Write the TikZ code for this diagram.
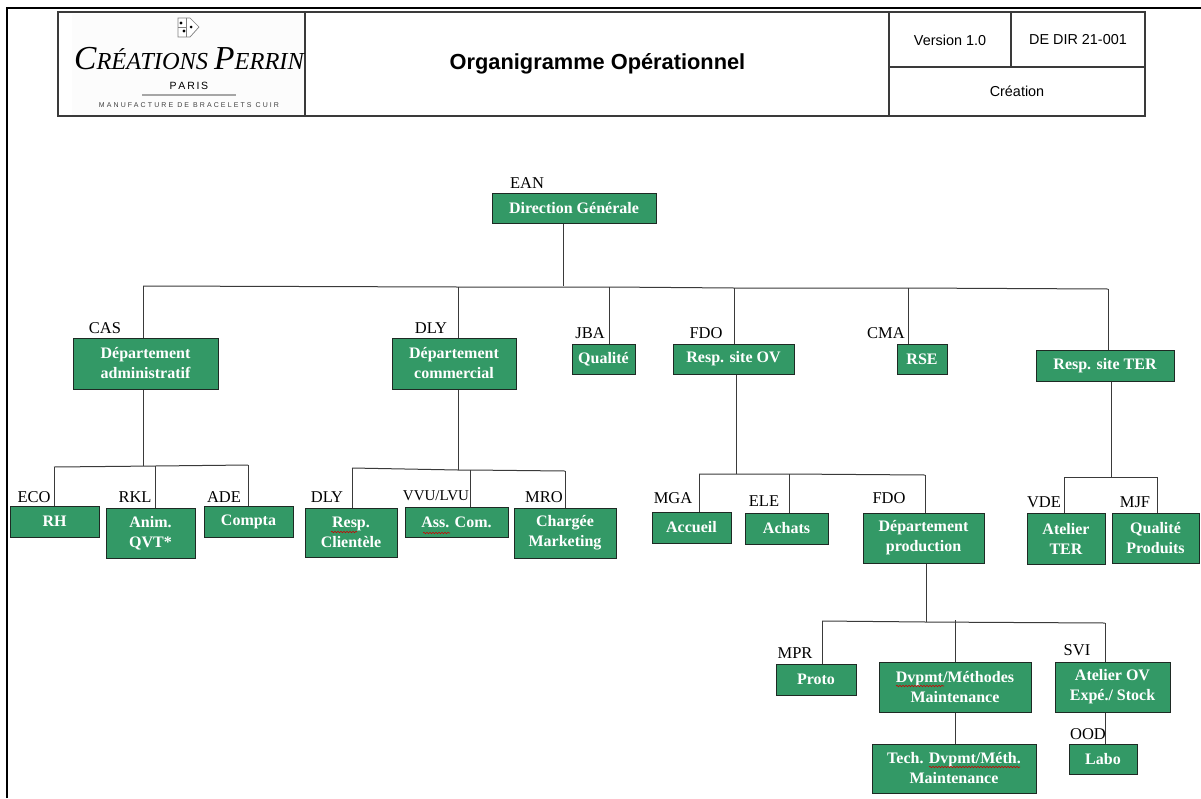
\documentclass[tikz,border=0pt]{standalone}
\usepackage{fontspec}
\setmainfont{Liberation Serif}
\newfontfamily\headfont{Liberation Sans}
\newfontfamily\spacedfont[LetterSpace=30]{Liberation Sans}
\usetikzlibrary{decorations.pathmorphing}
\definecolor{boxgreen}{HTML}{339966}
\definecolor{boxline}{HTML}{1E2A24}
\definecolor{wireline}{HTML}{3A3A3A}
\tikzset{
  orgbox/.style={draw=boxline,fill=boxgreen,line width=1pt,text=white,align=center,inner sep=0pt,
    font=\fontsize{16}{20}\selectfont\bfseries},
  tag/.style={inner sep=0pt,font=\fontsize{16.5}{16}\selectfont},
  wire/.style={draw=wireline,line width=1pt},
  headline/.style={draw=wireline,line width=1.1pt},
  headtxt/.style={inner sep=0pt,font=\headfont\fontsize{14.4}{16}\selectfont},
  squig/.style={draw=red!80!black,line width=0.6pt,decorate,decoration={snake,amplitude=0.7pt,segment length=3pt}}
}
\begin{document}
\begin{tikzpicture}[x=1pt,y=-1pt]
\useasboundingbox (0,0) rectangle (1201,798);
\fill[white] (0,0) rectangle (1201,798);
% page frame
\draw[line width=2pt] (7,798) -- (7,8) -- (1201,8);
% header
\fill[black!1] (72,14) rectangle (305,115);
\draw[headline] (58,12) rectangle (1145,116);
\draw[headline] (305,12) -- (305,116);
\draw[headline] (889,12) -- (889,116);
\draw[headline] (1011,12) -- (1011,67);
\draw[headline] (889,67) -- (1145,67);
% logo
\draw[gray,line width=0.7pt,fill=white] (178,18) -- (190,18) -- (199,27) -- (190,37) -- (178,37) -- cycle;
\draw[gray,line width=0.5pt] (186,18) -- (186,37) (178,27) -- (186,27);
\fill (181,23) circle (1.7pt);
\fill (184,31) circle (1.7pt);
\fill (191,27) circle (1.5pt);
\node[inner sep=0pt,font=\itshape] (logoname) at (189,59)
  {\fontsize{33.5}{34}\selectfont C\fontsize{24.4}{25}\selectfont RÉATIONS \fontsize{33.5}{34}\selectfont P\fontsize{24.4}{25}\selectfont ERRIN};
\node[inner sep=0pt,font=\headfont\fontsize{10.5}{11}\selectfont] (logoville) at (189,86) {P\,A\,R\,I\,S};
\draw[black!35,line width=1.2pt] (142,95) -- (236,95);
\node[inner sep=0pt,font=\spacedfont\fontsize{7}{8}\selectfont,text=black!75] (logomanu) at (189,105) {MANUFACTURE DE BRACELETS CUIR};
\node[inner sep=0pt,font=\headfont\bfseries\fontsize{21.8}{24}\selectfont] (titre) at (597.5,64) {Organigramme Opérationnel};
\node[headtxt] (version) at (950,40) {Version 1.0};
\node[headtxt] (reference) at (1078,40) {DE DIR 21-001};
\node[headtxt] (service) at (1017,91) {Création};
% boxes
\node[orgbox,minimum width=164,minimum height=30] (dg) at (574,208) {Direction Générale};
\node[orgbox,minimum width=145,minimum height=51] (dadm) at (145.5,363.5) {Département\\administratif};
\node[orgbox,minimum width=124,minimum height=51] (dcom) at (454,363.5) {Département\\commercial};
\node[orgbox,minimum width=63,minimum height=30] (qual) at (603.5,359) {Qualité};
\node[orgbox,minimum width=121,minimum height=30] (rov) at (733.5,359) {Resp. site OV};
\node[orgbox,minimum width=50,minimum height=30] (rse) at (922,359) {RSE};
\node[orgbox,minimum width=138,minimum height=31] (rter) at (1105,365.5) {Resp. site TER};
\node[orgbox,minimum width=89,minimum height=31] (rh) at (54.5,521.5) {RH};
\node[orgbox,minimum width=89,minimum height=50] (anim) at (150.5,533) {Anim.\\QVT*};
\node[orgbox,minimum width=89,minimum height=31] (compta) at (248.5,521.5) {Compta};
\node[orgbox,minimum width=92,minimum height=49] (clien) at (351,532.5) {Resp.\\Clientèle};
\node[orgbox,minimum width=103,minimum height=30] (asscom) at (456.5,522) {Ass. Com.};
\node[orgbox,minimum width=102,minimum height=50] (mark) at (565,533) {Chargée\\Marketing};
\node[orgbox,minimum width=79,minimum height=31] (accueil) at (691.5,527.5) {Accueil};
\node[orgbox,minimum width=83,minimum height=31] (achats) at (786.5,528.5) {Achats};
\node[orgbox,minimum width=121,minimum height=50] (dprod) at (923.5,538) {Département\\production};
\node[orgbox,minimum width=78,minimum height=51] (ater) at (1066,538.5) {Atelier\\TER};
\node[orgbox,minimum width=87,minimum height=50] (qprod) at (1155.5,538) {Qualité\\Produits};
\node[orgbox,minimum width=80,minimum height=31] (proto) at (816,679.5) {Proto};
\node[orgbox,minimum width=152,minimum height=50] (dvp) at (955,687) {Dvpmt/Méthodes\\Maintenance};
\node[orgbox,minimum width=115,minimum height=50] (aov) at (1112.5,687) {Atelier OV\\Expé./ Stock};
\node[orgbox,minimum width=164,minimum height=49] (tech) at (954,768.5) {Tech. Dvpmt/Méth.\\Maintenance};
\node[orgbox,minimum width=68,minimum height=30] (labo) at (1103,759) {Labo};
% spelling marks
\draw[squig] (896,686) -- (944,686);
\draw[squig] (929,767) -- (1020,767);
\draw[squig] (331,532) -- (357,532);
\draw[squig] (423,533) -- (450,533);
% bus points
\coordinate (bustop) at (563,286);
\coordinate (b1) at (143,286);
\coordinate (b2) at (458,287);
\coordinate (b3) at (609,287);
\coordinate (b4) at (734,288);
\coordinate (b5) at (908,288);
\coordinate (b6) at (1108,289);
\coordinate (adm0) at (143,466);
\coordinate (adm1) at (54,467);
\coordinate (adm2) at (155,466);
\coordinate (adm3) at (248,465);
\coordinate (com0) at (458,470);
\coordinate (com1) at (352,468);
\coordinate (com2) at (470,470);
\coordinate (com3) at (565,471);
\coordinate (ov0) at (736,474);
\coordinate (ov1) at (699,474);
\coordinate (ov2) at (789,474);
\coordinate (ov3) at (925,475);
\coordinate (ter0) at (1111,477);
\coordinate (ter1) at (1064,477);
\coordinate (ter2) at (1157,477);
\coordinate (pr0) at (926,622);
\coordinate (pr1) at (822,621);
\coordinate (pr2) at (955,620);
\coordinate (pr3) at (1105,623);
% connectors
\draw[wire] (dg.south -| bustop) -- (bustop);
\draw[wire] (b1) -- (b2) -- (b3) -- (b4) -- (b5) -- (b6);
\draw[wire] (dadm.south -| adm0) -- (adm0);
\draw[wire] (adm1) -- (adm2) -- (adm3);
\draw[wire] (dcom.south -| com0) -- (com0);
\draw[wire] (com1) -- (com0) -- (com2) -- (com3);
\draw[wire] (rov.south -| ov0) -- (ov0);
\draw[wire] (ov1) -- (ov2) -- (ov3);
\draw[wire] (rter.south -| ter0) -- (ter0);
\draw[wire] (ter1) -- (ter2);
\draw[wire] (dprod.south -| pr0) -- (pr0);
\draw[wire] (pr1) -- (pr0) -- (pr3);
\foreach \from/\to in {b1/dadm,b2/dcom,b3/qual,b4/rov,b5/rse,b6/rter,
  adm1/rh,adm2/anim,adm3/compta,com1/clien,com2/asscom,com3/mark,
  ov1/accueil,ov2/achats,ov3/dprod,ter1/ater,ter2/qprod,
  pr1/proto,pr2/dvp,pr3/aov}
  \draw[wire] (\from) -- (\from |- \to.north);
\draw[wire] (tech.north -| dvp.south) -- (dvp.south);
\draw[wire] (labo.north -| pr3) -- (aov.south -| pr3);
% initials
\node[tag] (tdg) at (527,183) {EAN};
\node[tag] (tdadm) at (105,328) {CAS};
\node[tag] (tdcom) at (431,328) {DLY};
\node[tag] (tqual) at (590,333) {JBA};
\node[tag] (trov) at (706,333) {FDO};
\node[tag] (trse) at (886,333) {CMA};
\node[tag] (trh) at (34,497) {ECO};
\node[tag] (tanim) at (135,497) {RKL};
\node[tag] (tcompta) at (224,497) {ADE};
\node[tag] (tclien) at (327,497) {DLY};
\node[tag,font=\fontsize{15}{16}\selectfont] (tasscom) at (436,496) {VVU/LVU};
\node[tag] (tmark) at (544,497) {MRO};
\node[tag] (taccueil) at (673,498) {MGA};
\node[tag] (tachats) at (764,501) {ELE};
\node[tag] (tdprod) at (889,498) {FDO};
\node[tag] (tater) at (1044,502) {VDE};
\node[tag] (tqprod) at (1135,502) {MJF};
\node[tag] (tproto) at (795,653) {MPR};
\node[tag] (taov) at (1077,650) {SVI};
\node[tag] (tlabo) at (1088,734) {OOD};
\end{tikzpicture}
\end{document}
